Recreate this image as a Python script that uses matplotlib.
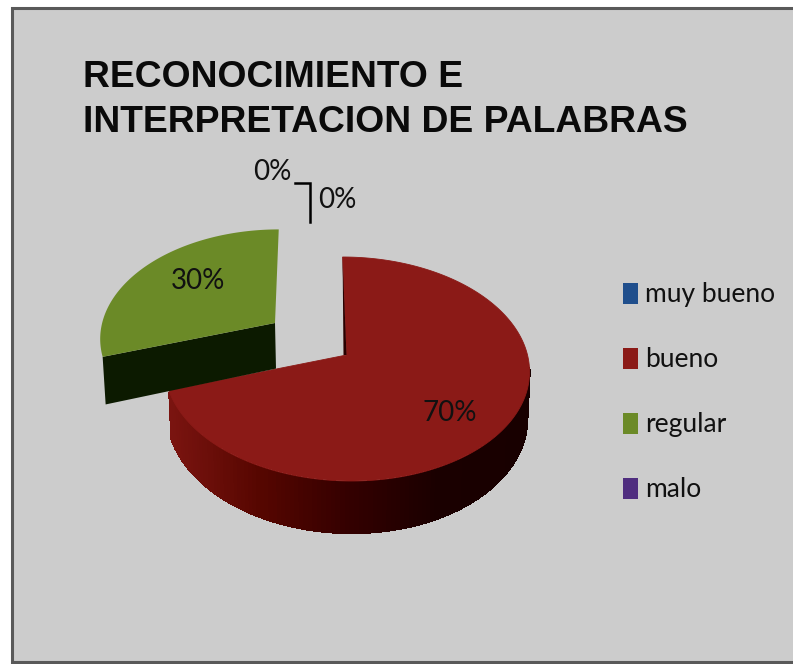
import numpy as np
import matplotlib
matplotlib.use('Agg')
import matplotlib.pyplot as plt
from matplotlib.colors import LinearSegmentedColormap
from matplotlib.patches import Polygon, Rectangle

title = 'RECONOCIMIENTO E\nINTERPRETACION DE PALABRAS'
categories = ['muy bueno', 'bueno', 'regular', 'malo']
values = [0, 70, 30, 0]
pct_labels = ['0%', '70%', '30%', '0%']

BG = '#cccccc'
BORDER = '#595959'
colors = ['#1f4e8c', '#8b1a17', '#6b8a27', '#4f2d7f']
LABEL_FONT = 'Lato'

# pie drawn in pixel coords, perspective disc
R, B, P, DEPTH = 181, 110.25, 0.125, 45.6
side_cmap = LinearSegmentedColormap.from_list('side', ['#7a1410', '#560600', '#340000', '#1a0000', '#180000'])


def rim(theta, apex, scale=1.0, shear=-0.04):
    u, v = np.sin(theta), np.cos(theta)
    s = scale / (1 + P * v)
    dy = -B * v * s
    return apex[0] + R * u * s - shear * dy, apex[1] + dy, s


fig = plt.figure(figsize=(7.93, 6.64), dpi=100, facecolor='white')
ax = fig.add_axes([0, 0, 1, 1])
ax.set_xlim(0, 793)
ax.set_ylim(664, 0)
ax.axis('off')

ax.add_patch(Rectangle((11.5, 7.5), 790, 654, facecolor=BG, edgecolor=BORDER, lw=2.2))
ax.text(83, 100, title, fontsize=26.8, fontweight='bold', family='Liberation Sans',
        color='#0a0a0a', va='center', ha='left', linespacing=1.36)

# slice angles come from the values, clockwise from 12 o'clock
edges = np.radians(np.cumsum([0] + values) * 3.6)

# bueno
apex = (346.5, 355)
t0, t1 = edges[1], edges[2]
vis = np.linspace(np.radians(96), t1 - 0.01, 120)
x, y, s = rim(vis, apex)
for i in range(len(vis) - 1):
    quad = [(x[i], y[i] + 1), (x[i + 1], y[i + 1] + 1),
            (x[i + 1] + (apex[0] - x[i + 1]) * 0.012, y[i + 1] + DEPTH * s[i + 1]),
            (x[i] + (apex[0] - x[i]) * 0.012, y[i] + DEPTH * s[i])]
    c = side_cmap((x[i] - 170) / 359)
    ax.add_patch(Polygon(quad, facecolor=c, edgecolor=c, lw=0.8, antialiased=False))
th = np.linspace(t0, t1, 240)
x, y, s = rim(th, apex)
ax.add_patch(Polygon(np.r_[[apex], np.c_[x, y]], facecolor=colors[1], edgecolor=colors[1], lw=0.6))
ax.add_patch(Polygon([(x[0], y[0]), apex, (apex[0] - 3, apex[1])], facecolor='#2a0000', edgecolor='none'))

# regular, pulled out of the pie
apex = (275, 323)
t0, t1 = edges[2], edges[3]
th = np.linspace(t0, t1, 120)
x, y, s = rim(th, apex, scale=0.955, shear=0.04)
d = DEPTH + 2
ax.add_patch(Polygon([apex, (x[0], y[0]), (x[0] + 3, y[0] + d), (apex[0] + 1, apex[1] + d - 2)],
                     facecolor='#0c1a00', edgecolor='none'))
ax.add_patch(Polygon(np.r_[[apex], np.c_[x, y]], facecolor=colors[2], edgecolor='none'))

# labels and the leader of the two empty slices
label_xy = [(272, 172), (450, 413), (198, 281), (337, 200)]
for lab, (lx, ly) in zip(pct_labels, label_xy):
    ax.text(lx, ly, lab, fontsize=20, family=LABEL_FONT, color='#111111', ha='center', va='center')
ax.plot([295, 310, 310], [183, 183, 222], color='black', lw=1.8, solid_joinstyle='miter')

# legend
for i, (name, col) in enumerate(zip(categories, colors)):
    ly = 293.5 + i * 65
    ax.add_patch(Rectangle((623, ly - 10.5), 15, 21, facecolor=col, edgecolor='none'))
    ax.text(645, ly + 1, name, fontsize=19, family=LABEL_FONT, color='#111111', ha='left', va='center')

fig.savefig('out.png', dpi=100, facecolor='white')
